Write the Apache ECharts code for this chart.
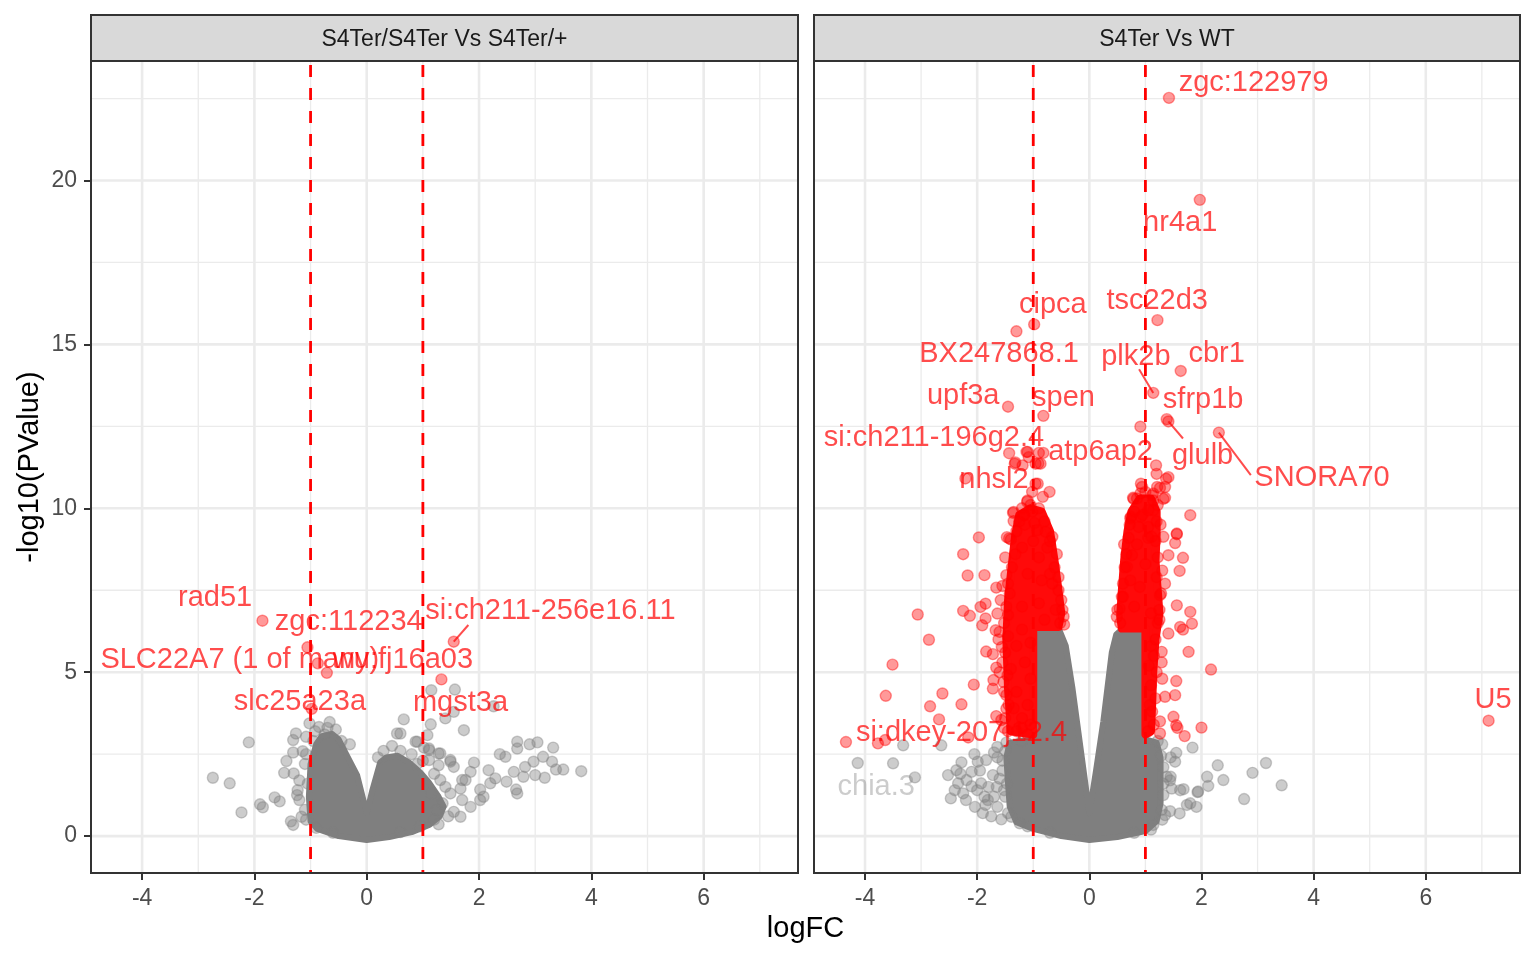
<!DOCTYPE html>
<html><head><meta charset="utf-8">
<script src="https://cdn.jsdelivr.net/npm/echarts@6/dist/echarts.min.js"></script>
<style>html,body{margin:0;padding:0;background:#fff}#c{width:1536px;height:960px}</style>
</head><body><div id="c"></div>
<script>
// ---------- axes / facets ----------
const facetTitles = ['S4Ter/S4Ter Vs S4Ter/+', 'S4Ter Vs WT'];
const xTicks = [-4, -2, 0, 2, 4, 6];
const xMinor = [-3, -1, 1, 3, 5, 7];
const yTicks = [0, 5, 10, 15, 20];
const yMinor = [2.5, 7.5, 12.5, 17.5, 22.5];
const fcCutoffs = [-1, 1];
const xRange = [-4.91, 7.68];
const yRange = [-1.126, 23.646];

// ---------- panel A: S4Ter/S4Ter Vs S4Ter/+ ----------
// outline of the solid overlapping cloud of non-significant genes
const denseGrayA = [[0,-0.12],[-0.5,0.0],[-0.88,0.22],[-1.0,0.45],[-1.03,1.2],[-1.0,2.2],[-0.9,2.8],[-0.8,3.05],[-0.62,3.12],[-0.5,2.95],[-0.35,2.45],[-0.17,1.85],[0,0.7],[0.1,1.4],[0.24,2.25],[0.35,2.4],[0.55,2.45],[0.75,2.25],[0.95,1.95],[1.1,1.65],[1.28,1.2],[1.37,0.9],[1.3,0.6],[1.12,0.35],[0.8,0.12],[0.4,-0.03]];
const grayA = [[-2.10,2.86],[-2.74,1.78],[-2.44,1.61],[-2.23,0.72],[-1.90,0.97],[-1.85,0.88],[-1.64,1.18],[-1.55,1.06],[-1.43,2.29],[-1.47,1.93],[-1.30,1.91],[-1.31,2.93],[-1.26,3.13],[-1.31,2.55],[-1.31,0.34],[-1.24,1.25],[-1.20,1.10],[-1.23,1.40],[-1.16,0.59],[-1.14,2.59],[-1.08,3.03],[-1.02,3.44],[-0.85,3.33],[-0.66,3.48],
 [-0.95,2.9],[-1.1,2.2],[-1.2,1.7],[-1.1,0.8],[-0.75,3.1],[-0.55,3.25],[-1.35,0.45],[-0.3,2.8],[0.3,2.6],[0.45,2.75],[0.8,2.5],[1.0,2.3],[1.2,1.9],[1.4,1.5],[1.35,1.0],[1.45,0.6],[1.2,0.5],[1.02,2.7],
 [-1.05,1.6],[-1.08,0.5],[-0.9,0.25],[-0.6,0.1],[-0.45,2.9],[-0.7,3.3],[-0.92,3.2],[-1.08,2.5],[0.2,2.4],[0.6,2.6],[0.9,2.2],[1.15,1.3],[1.25,0.8],[0.95,0.3],[0.6,0.12],
 [0.66,3.56],[1.14,3.41],[1.08,3.08],[0.87,2.88],[0.54,3.13],[1.31,2.52],[1.11,2.67],[1.49,2.27],[1.73,3.23],[1.15,4.45],[1.57,4.47],[1.55,3.79],[1.40,3.59],[1.70,1.71],[1.67,0.59],[2.26,3.96],[0.60,3.13],[0.90,2.88],[2.68,2.88],[2.68,2.67],[2.90,2.80],[3.04,2.86],[3.32,2.70],[2.37,2.50],[2.47,2.42],[3.14,2.42],[2.97,2.27],[2.82,2.11],[3.30,2.27],[3.37,2.03],[3.50,2.03],[3.82,1.98],[2.62,1.96],[2.79,1.81],[3.00,1.86],[3.17,1.78],[2.17,2.01],[2.29,1.76],[2.49,1.66],[2.66,1.42],[2.68,1.30],[2.02,1.42],[2.08,1.20],[2.20,1.61],[1.85,1.96],[1.91,2.24],[1.76,1.71],[1.67,1.45],[1.49,2.32],[1.55,2.11],[1.28,2.52],[1.28,2.16],[1.70,1.10],[1.85,0.89],[1.28,0.36],[2.02,1.10],[1.55,0.74],[1.49,1.30],[1.11,2.62],[1.11,2.32],[1.31,1.71]];
const labeledA = [
 ['rad51', -1.857, 6.57],
 ['zgc:112234', -1.055, 5.76],
 ['SLC22A7 (1 of many)', -0.87, 5.27],
 ['wu:fj16a03', -0.71, 4.98],
 ['slc25a23a', -0.98, 3.88],
 ['mgst3a', 1.33, 4.78],
 ['si:ch211-256e16.11', 1.55, 5.93]
];
// label text centres and segment ends (repel layout), data units
const labelPosA = [[-2.70,7.25],[-0.32,6.54],[-2.26,5.37],[0.645,5.37],[-1.19,4.09],[1.67,4.05],[3.27,6.86]];
const segEndA = [null,null,null,null,null,null,[1.81,6.44]];

// ---------- panel B: S4Ter Vs WT ----------
const denseGrayB = [[0,-0.12],[-0.5,0.0],[-1.0,0.22],[-1.3,0.42],[-1.42,0.9],[-1.45,1.6],[-1.48,2.4],[-1.42,2.85],[-1.0,2.95],[-1.0,6.35],[-0.55,6.35],[-0.42,5.8],[-0.3,4.5],[-0.15,2.6],[0,0.7],[0.12,2.0],[0.25,3.5],[0.4,5.6],[0.48,6.15],[0.6,6.33],[1.0,6.33],[1.0,2.95],[1.2,2.85],[1.27,2.4],[1.27,1.0],[1.2,0.45],[1.0,0.15],[0.5,-0.03]];
const denseRedB1 = [[-1.0,3.1],[-1.4,3.2],[-1.45,4.5],[-1.48,6.0],[-1.45,7.2],[-1.38,8.3],[-1.32,9.2],[-1.25,9.8],[-1.05,10.0],[-0.85,9.9],[-0.7,9.3],[-0.62,8.4],[-0.55,7.5],[-0.5,6.8],[-0.55,6.38],[-1.0,6.38]];
const denseRedB2 = [[1.0,3.1],[1.0,6.33],[0.58,6.33],[0.55,6.7],[0.58,7.5],[0.62,8.4],[0.68,9.3],[0.75,9.9],[0.9,10.3],[1.1,10.3],[1.2,9.9],[1.2,9.2],[1.18,8.4],[1.22,7.5],[1.25,6.8],[1.18,6.0],[1.14,5.0],[1.12,4.0],[1.1,3.2]];
const grayB = [[-4.13,2.23],[-3.50,2.22],[-3.32,2.77],[-3.11,1.79],[-2.64,2.77],[-2.52,1.86],[-2.37,2.01],[-2.47,1.15],[-2.34,1.61],[-2.25,1.30],[-2.10,1.96],[-2.04,0.89],[-1.99,2.27],[-1.93,1.61],[-1.84,2.32],[-1.81,1.10],[-1.64,2.40],[-1.64,0.89],[-1.57,0.51],[-1.64,2.72],[-1.72,1.86],[-2.10,1.52],[-2.19,1.71],[-1.39,0.59],[-1.24,0.39],[-1.47,1.6],[-1.87,1.2],[-1.5,2.6],[-1.55,2.0],[-1.5,1.2],
 [-1.45,0.7],[-1.52,1.4],[-1.55,2.3],[-1.48,2.85],[-1.2,2.9],[-1.1,0.3],[-0.7,0.1],
 [-2.3,1.9],[-2.0,1.4],[-1.8,1.5],[-1.7,1.2],[-1.9,0.7],[-1.75,0.6],[-2.2,1.1],[-1.6,1.75],[-1.95,2.0],[-2.4,1.4],[-1.7,2.55],[-2.05,2.5],[-1.85,0.95],[-1.65,1.5],[-2.28,2.25],
 [1.84,2.70],[2.29,2.16],[3.15,2.23],[2.91,1.93],[3.43,1.55],[2.76,1.13],[2.39,1.71],[2.10,1.81],[2.12,1.53],[1.93,1.34],[1.94,1.36],[1.68,1.43],[1.91,0.89],[1.80,1.00],[1.61,0.69],[1.44,0.76],[1.35,0.64],[1.14,0.34],[1.55,2.54],[1.53,2.27],[1.38,1.81],[1.45,1.81],[1.47,1.45],[1.32,1.25],[1.32,2.1],[1.62,1.40],[1.74,0.95],[1.29,0.8],[1.45,2.4],[1.44,1.7],[1.3,2.8],[1.3,0.5],
 [1.32,1.6],[1.28,2.45],[1.22,2.9],[1.1,0.2],[0.8,0.1]];
const redB = [[-4.34,2.87],[-3.77,2.83],[-3.64,2.93],[-3.51,5.23],[-3.63,4.28],[-3.06,6.76],[-2.86,5.99],[-2.62,4.35],[-2.84,3.96],[-2.68,3.56],[-2.28,4.02],[-2.06,4.62],[-2.16,3.01],[-2.25,8.60],[-1.97,9.11],[-2.17,7.95],[-1.87,7.96],[-2.25,6.87],[-2.13,6.72],[-1.94,6.99],[-1.85,7.09],[-1.85,6.64],[-1.91,6.43],[-1.64,6.79],[-1.66,7.58],[-1.55,7.63],[-1.48,7.96],[-1.84,5.63],[-1.72,5.55],[-1.56,5.77],[-1.66,5.14],[-1.71,4.76],[-1.72,4.50],[-1.53,4.70],[-1.48,4.30],[-1.66,3.66],[-1.57,3.54],[-1.48,3.89],[-1.67,6.28],[-1.60,6.23],[-1.45,6.74],[-1.36,9.86],[-1.35,9.61],[-1.43,9.08],[-1.47,9.12],[-1.33,11.36],[-1.19,11.31],[-1.10,10.24],[-1.16,9.79],[-0.71,10.50],[-0.83,10.35],[-0.92,10.75],[-0.96,11.36],[-0.87,11.36],[-1.10,11.72],[-0.90,11.69],[-1.43,11.68],[-1.12,11.72],[-1.32,11.40],[-1.08,11.56],[-0.96,10.75],[-1.02,10.50],[-1.11,10.20],[-1.02,9.90],[-1.35,9.89],[-1.17,9.80],[-1.40,9.05],[-0.93,9.33],[-0.78,9.28],[-0.66,9.13],[-0.58,8.6],[-0.55,7.9],[-0.5,7.2],[-0.46,6.7],[-1.5,8.5],[-1.58,7.2],[-1.62,6.0],[-1.6,5.0],[-1.52,3.3],[-1.3,3.2],[-1.1,3.1],
 [-1.45,3.2],[-1.5,3.6],[-1.44,4.0],[-1.52,4.4],[-1.46,4.9],[-1.55,5.3],[-1.5,5.6],[-1.45,6.1],[-1.52,6.5],[-1.48,7.0],[-1.42,7.4],[-1.45,7.7],[-1.38,8.2],[-1.32,8.6],[-1.3,9.3],[-1.25,9.6],
 [-1.2,10.0],[-1.05,10.1],[-0.9,10.0],[-0.8,9.6],[-0.98,9.55],[-1.15,9.5],
 [-0.7,9.0],[-0.62,8.2],[-0.66,7.7],[-0.55,7.5],[-0.48,6.9],[-0.52,6.5],[-0.45,6.45],[-0.6,6.9],[-0.7,8.0],[-0.75,8.8],
 [-1.05,3.4],[-1.1,4.0],[-1.2,3.6],[-1.3,4.4],[-1.05,4.8],[-1.15,5.3],[-1.3,5.8],[-1.05,5.9],[-1.2,6.3],[-1.35,3.9],[-1.4,5.1],
 [-1.2,7.0],[-0.9,7.1],[-0.8,6.6],[-1.1,8.0],[-0.9,8.5],[-1.0,9.0],[-1.2,8.8],[-0.85,7.8],
 [0.91,12.49],[1.19,11.31],[1.20,11.05],[1.37,10.90],[1.35,10.65],[1.21,10.65],[1.32,10.29],[1.14,10.24],[0.92,10.75],[0.79,10.29],[1.05,9.94],[1.14,9.94],[0.74,9.74],[0.92,9.74],[0.88,9.43],[1.05,9.43],[1.11,9.13],[1.32,9.13],[1.56,9.23],[1.80,9.79],[1.41,10.95],[1.26,10.62],[0.94,10.65],[0.91,10.45],[0.78,10.32],[1.35,10.32],[1.14,10.45],[0.73,9.69],[1.56,9.21],[1.53,8.94],[1.41,8.57],[1.67,8.49],[1.61,8.09],[0.76,8.57],[0.67,8.21],[0.73,7.80],[1.35,7.70],[1.26,7.35],[1.56,7.04],[1.80,6.84],[1.83,6.48],[1.62,6.38],[1.67,6.30],[1.41,6.18],[0.54,6.94],[0.49,6.69],[1.77,5.62],[1.29,5.62],[1.29,5.30],[2.17,5.08],[1.55,4.73],[1.53,4.30],[1.35,4.25],[1.50,3.64],[1.55,3.38],[1.70,3.05],[2.00,3.31],[1.26,3.13],[1.26,3.50],[1.57,3.30],[1.3,4.8],[1.25,6.6],[1.3,8.1],[1.27,9.5],[0.6,7.3],[0.62,8.9],
 [0.55,6.5],[0.5,6.9],[0.58,7.3],[0.6,7.7],[0.63,8.2],[0.66,8.6],[0.7,9.1],[0.72,9.5],[0.8,9.9],[0.85,10.3],
 [1.0,10.5],[1.12,10.4],[1.22,10.1],
 [1.2,9.6],[1.18,9.0],[1.22,8.5],[1.2,7.9],[1.28,7.4],[1.25,6.9],[1.22,6.5],[1.18,6.0],[1.15,5.5],[1.2,5.0],[1.1,4.6],[1.18,4.2],[1.12,3.8],[1.15,3.4],[1.05,3.2],[1.08,4.0],[1.06,5.2],[1.1,5.8],
 [0.8,7.0],[0.9,7.6],[1.0,8.3],[0.85,8.9],[1.05,9.1],[0.95,9.8],[1.1,6.8]];
const labeledB = [
 ['zgc:122979', 1.42, 22.52],
 ['nr4a1', 1.97, 19.41],
 ['cipca', -0.984, 15.61],
 ['BX247868.1', -1.30, 15.40],
 ['tsc22d3', 1.215, 15.74],
 ['plk2b', 1.14, 13.52],
 ['cbr1', 1.63, 14.19],
 ['upf3a', -1.45, 13.10],
 ['spen', -0.82, 12.82],
 ['sfrp1b', 1.38, 12.72],
 ['glulb', 1.41, 12.65],
 ['SNORA70', 2.31, 12.31],
 ['si:ch211-196g2.4', -0.91, 11.37],
 ['atp6ap2', -0.82, 11.69],
 ['nhsl2', -2.21, 10.91],
 ['si:dkey-207j12.4', -1.2, 3.3],
 ['U5', 7.12, 3.52]
];
const labelPosB = [[2.93,22.96],[1.62,18.70],[-0.65,16.20],[-1.61,14.72],[1.21,16.33],[0.83,14.63],[2.27,14.72],[-2.25,13.43],[-0.46,13.36],[2.03,13.30],[2.02,11.59],[4.15,10.92],[-2.77,12.14],[0.20,11.72],[-1.70,10.86],[-2.28,3.14],[7.20,4.15]];
const segEndB = [null,null,null,null,null,[0.887,14.24],null,null,null,null,[1.67,12.13],[2.88,11.01],null,null,null,null,null];
const labeledGrayB = [['chia.3', -3.50, 2.22]];
const labelPosGrayB = [[-3.80,1.51]];
const segEndGrayB = [null];

// ---------- styles ----------
const FONT = '"Liberation Sans", Arial, Helvetica, sans-serif';
const GRAY_PT = 'rgba(127,127,127,0.4)';
const RED_PT = 'rgba(255,0,0,0.4)';
const RED_TXT = 'rgba(255,0,0,0.7)';
const GRAY_TXT = 'rgba(127,127,127,0.4)';
const grids = [
  {left: 91, top: 61, width: 707, height: 812},
  {left: 814, top: 61, width: 706, height: 812}
];

function lineSeries(gi, values, dir, style, z) {
  return {
    type: 'custom', xAxisIndex: gi, yAxisIndex: gi, z: z, silent: true, clip: false,
    data: values.map(v => dir === 'v' ? [v, 0] : [0, v]),
    renderItem: (params, api) => {
      const cs = params.coordSys;
      const p = api.coord([api.value(0), api.value(1)]);
      const shape = dir === 'v' ? {x1: p[0], y1: cs.y, x2: p[0], y2: cs.y + cs.height}
                                : {x1: cs.x, y1: p[1], x2: cs.x + cs.width, y2: p[1]};
      return {type: 'line', shape: shape, style: style};
    }
  };
}
function polySeries(gi, poly, fill, lw, z) {
  return {
    type: 'custom', xAxisIndex: gi, yAxisIndex: gi, z: z, silent: true,
    data: [[poly[0][0], poly[0][1]]],
    renderItem: (params, api) => ({
      type: 'polygon',
      shape: {points: poly.map(v => api.coord(v))},
      style: {fill: fill, stroke: fill, lineWidth: lw, lineJoin: 'round'}
    })
  };
}
function pointSeries(gi, data, color, z) {
  return {
    type: 'scatter', xAxisIndex: gi, yAxisIndex: gi, z: z, silent: true,
    data: data, symbol: 'circle', symbolSize: 11,
    itemStyle: {color: color, borderColor: color, borderWidth: 1.4, opacity: 1}
  };
}
function labelSeries(gi, items, pos, segs, color, z) {
  return {
    type: 'custom', xAxisIndex: gi, yAxisIndex: gi, z: z, silent: true, clip: false,
    data: items.map((d, i) => [d[1], d[2], i]),
    renderItem: (params, api) => {
      const i = api.value(2);
      const p = api.coord([api.value(0), api.value(1)]);
      const c = api.coord(pos[i]);
      const children = [];
      if (segs[i]) {
        const e = api.coord(segs[i]);
        children.push({type: 'line', shape: {x1: p[0], y1: p[1], x2: e[0], y2: e[1]},
          style: {stroke: color, lineWidth: 2}});
      }
      children.push({type: 'text', x: c[0], y: c[1],
        style: {text: items[i][0], fill: color, font: '29px ' + FONT, align: 'center', verticalAlign: 'middle'}});
      return {type: 'group', children: children};
    }
  };
}

const series = [];
const majorStyle = {stroke: '#ebebeb', lineWidth: 2.6};
const minorStyle = {stroke: '#ebebeb', lineWidth: 1.3};
const dashStyle = {stroke: '#ff0000', lineWidth: 2.8, lineDash: [12, 11], lineDashOffset: 19};
[0, 1].forEach(gi => {
  series.push(lineSeries(gi, xMinor, 'v', minorStyle, 1));
  series.push(lineSeries(gi, yMinor, 'h', minorStyle, 1));
  series.push(lineSeries(gi, xTicks, 'v', majorStyle, 2));
  series.push(lineSeries(gi, yTicks, 'h', majorStyle, 2));
});
// panel A
series.push(polySeries(0, denseGrayA, '#7f7f7f', 6, 3));
series.push(pointSeries(0, grayA, GRAY_PT, 4));
series.push(pointSeries(0, labeledA.map(d => [d[1], d[2]]), RED_PT, 6));
series.push(lineSeries(0, fcCutoffs, 'v', dashStyle, 8));
series.push(labelSeries(0, labeledA, labelPosA, segEndA, RED_TXT, 10));
// panel B
series.push(polySeries(1, denseGrayB, '#7f7f7f', 6, 3));
series.push(pointSeries(1, grayB, GRAY_PT, 4));
series.push(polySeries(1, denseRedB1, '#ff0a0a', 8, 5));
series.push(polySeries(1, denseRedB2, '#ff0a0a', 8, 5));
series.push(pointSeries(1, redB.concat(labeledB.map(d => [d[1], d[2]])), RED_PT, 6));
series.push(lineSeries(1, fcCutoffs, 'v', dashStyle, 8));
series.push(labelSeries(1, labeledB, labelPosB, segEndB, RED_TXT, 10));
series.push(labelSeries(1, labeledGrayB, labelPosGrayB, segEndGrayB, GRAY_TXT, 10));

const xAxes = [0, 1].map(gi => ({
  type: 'value', gridIndex: gi, min: xRange[0], max: xRange[1],
  axisLine: {show: false, onZero: false}, splitLine: {show: false},
  axisTick: {show: true, customValues: xTicks, length: 7, lineStyle: {color: '#333333', width: 2}},
  axisLabel: {show: true, customValues: xTicks, margin: 14, fontSize: 23, color: '#4d4d4d', fontFamily: FONT,
    formatter: v => String(v)}
}));
const yAxes = [0, 1].map(gi => ({
  type: 'value', gridIndex: gi, min: yRange[0], max: yRange[1],
  axisLine: {show: false, onZero: false}, splitLine: {show: false},
  axisTick: {show: gi === 0, customValues: yTicks, length: 7, lineStyle: {color: '#333333', width: 2}},
  axisLabel: {show: gi === 0, customValues: yTicks, margin: 14, fontSize: 23, color: '#4d4d4d', fontFamily: FONT,
    formatter: v => String(v)}
}));

const graphic = [];
grids.forEach((g, i) => {
  graphic.push({type: 'rect', z: 100, silent: true,
    shape: {x: g.left, y: 15, width: g.width, height: 46},
    style: {fill: '#d9d9d9', stroke: '#333333', lineWidth: 2}});
  graphic.push({type: 'text', z: 101, silent: true, x: g.left + g.width / 2, y: 39.5,
    style: {text: facetTitles[i], fill: '#1a1a1a', font: '23px ' + FONT, align: 'center', verticalAlign: 'middle'}});
  graphic.push({type: 'rect', z: 100, silent: true,
    shape: {x: g.left, y: g.top, width: g.width, height: g.height},
    style: {fill: 'none', stroke: '#333333', lineWidth: 2}});
});
graphic.push({type: 'text', z: 101, silent: true, x: (grids[0].left + grids[1].left + grids[1].width) / 2, y: 929,
  style: {text: 'logFC', fill: '#000000', font: '29px ' + FONT, align: 'center', verticalAlign: 'middle'}});
graphic.push({type: 'text', z: 101, silent: true, x: 30, y: grids[0].top + grids[0].height / 2, rotation: Math.PI / 2,
  style: {text: '-log10(PValue)', fill: '#000000', font: '29px ' + FONT, align: 'center', verticalAlign: 'middle'}});

const chart = echarts.init(document.getElementById('c'), null, {renderer: 'canvas'});
chart.setOption({
  animation: false,
  backgroundColor: '#ffffff',
  grid: grids,
  xAxis: xAxes,
  yAxis: yAxes,
  series: series,
  graphic: graphic
});
</script>
</body></html>
